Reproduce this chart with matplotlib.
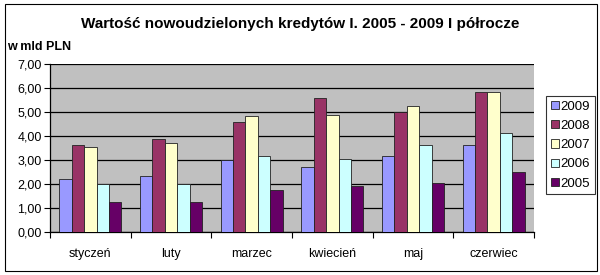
import numpy as np
import matplotlib
matplotlib.use("Agg")
from matplotlib import pyplot as plt
from matplotlib.patches import Rectangle
from matplotlib.ticker import FixedLocator

plt.rcParams['font.family'] = ['Liberation Sans', 'DejaVu Sans']

months = ["styczeń", "luty", "marzec", "kwiecień", "maj", "czerwiec"]
years = ["2009", "2008", "2007", "2006", "2005"]
v2009 = [2.22, 2.33, 3.00, 2.70, 3.15, 3.60]
v2008 = [3.62, 3.88, 4.58, 5.56, 4.99, 5.82]
v2007 = [3.55, 3.72, 4.83, 4.88, 5.26, 5.83]
v2006 = [2.00, 2.00, 3.18, 3.05, 3.60, 4.13]
v2005 = [1.24, 1.22, 1.72, 1.90, 2.05, 2.50]
colors = ["#9999FF", "#993366", "#FFFFCC", "#CCFFFF", "#660066"]

series = [v2009, v2008, v2007, v2006, v2005]

fig = plt.figure(figsize=(6, 2.75), dpi=100)
fig.patches.append(Rectangle((5/600, 4/275), 592/600, 267/275, transform=fig.transFigure,
                             fill=False, edgecolor="black", linewidth=0.8))
ax = fig.add_axes([50/600, 1 - 231.7/275, 484/600, 167.7/275])
ax.set_facecolor("#C0C0C0")

x = np.arange(len(months))
w = 0.153
for i, (vals, c, lab) in enumerate(zip(series, colors, years)):
    ax.bar(x + (i - 2) * w, vals, w, color=c, edgecolor="#222222", linewidth=0.6,
           label=lab, zorder=3)

ax.set_xlim(-0.5, len(months) - 0.5)
ax.set_ylim(0, 7)
ax.set_yticks(np.arange(0, 8, 1))
ax.set_yticklabels([("%.2f" % v).replace(".", ",") for v in range(8)])
ax.yaxis.grid(True, color="black", linewidth=0.9, zorder=1)
ax.set_axisbelow(True)
ax.tick_params(axis="y", length=4, width=0.8, pad=2, labelsize=9)

ax.set_xticks(x)
ax.set_xticklabels(months)
ax.tick_params(axis="x", which="major", length=0, pad=12, labelsize=9)
ax.xaxis.set_minor_locator(FixedLocator(np.arange(-0.5, len(months), 1)))
ax.tick_params(axis="x", which="minor", length=4, width=0.8)

for s in ["top", "right"]:
    ax.spines[s].set_visible(False)
for s in ["left", "bottom"]:
    ax.spines[s].set_linewidth(0.9)

fig.text(0.5, 1 - 24/275, "Wartość nowoudzielonych kredytów I. 2005 - 2009 I półrocze",
         ha="center", va="center", fontsize=11, fontweight="bold")
fig.text(7/600, 1 - 47/275, "w mld PLN", ha="left", va="center", fontsize=9,
         fontweight="bold")

leg = fig.legend(loc="upper left", bbox_to_anchor=(546/600, 1 - 96/275), fontsize=9.5,
                 frameon=True, fancybox=False, edgecolor="black", handlelength=0.6,
                 handleheight=0.6, handletextpad=0.15, labelspacing=0.55,
                 borderpad=0.35, borderaxespad=0)
leg.get_frame().set_linewidth(0.8)

plt.savefig("out.png", dpi=100)
